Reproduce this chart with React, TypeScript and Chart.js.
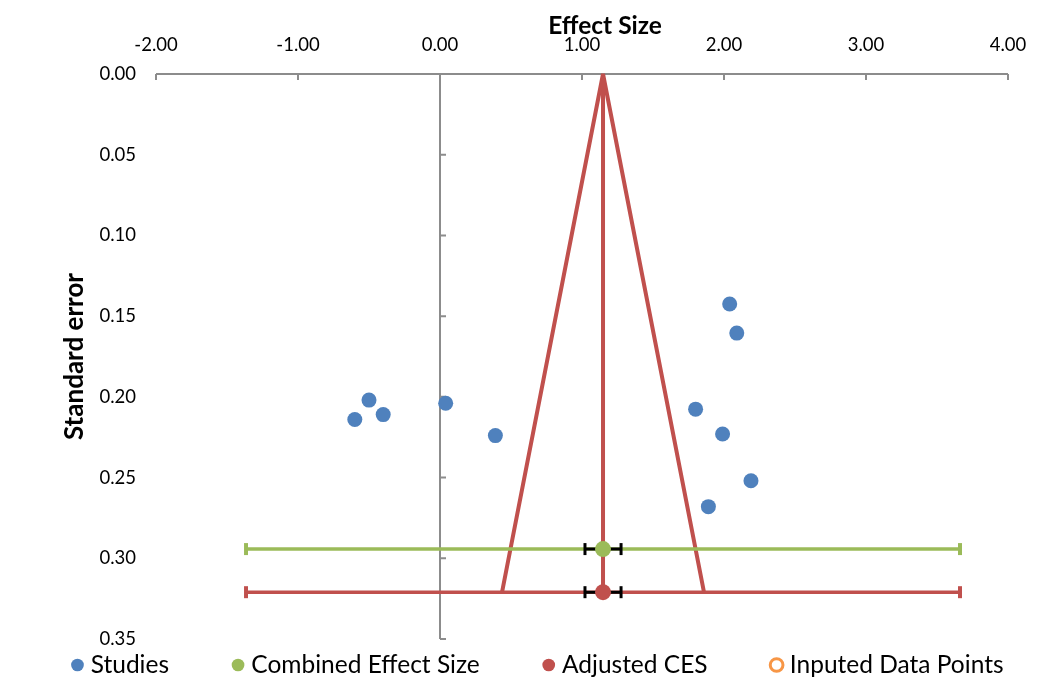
import React, { useEffect, useRef } from 'react';
import { Chart, registerables } from 'chart.js';

Chart.register(...registerables);

// ---- data ----
const studiesEffect = [-0.5, -0.6, -0.4, 0.04, 0.39, 2.04, 2.09, 1.8, 1.99, 2.19, 1.89];
const studiesSE = [0.202, 0.214, 0.211, 0.204, 0.224, 0.1425, 0.1605, 0.2076, 0.223, 0.252, 0.268];
const combinedEffect = [1.148];
const combinedSE = [0.2943];
const combinedCI = [1.021, 1.275];
const combinedPI = [-1.366, 3.662];
const adjustedEffect = [1.148];
const adjustedSE = [0.321];
const adjustedCI = [1.021, 1.275];
const adjustedPI = [-1.366, 3.662];
const funnelEffect = [0.437, 1.148, 1.859];
const funnelSE = [0.321, 0, 0.321];
const inputedEffect: number[] = [];
const inputedSE: number[] = [];
const xTicks = [-2, -1, 0, 1, 2, 3, 4];
const yTicks = [0, 0.05, 0.1, 0.15, 0.2, 0.25, 0.3, 0.35];
const seriesNames = ['Studies', 'Combined Effect Size', 'Adjusted CES', 'Inputed Data Points'];
const xTitle = 'Effect Size';
const yTitle = 'Standard error';

const BLUE = '#4F81BD';
const GREEN = '#9BBB59';
const RED = '#C0504D';
const ORANGE = '#F79646';
const GRAY = '#8C8C8C';
const FONT = 'Lato';
const TICK_SIZE = 18.5;
const LEGEND_SIZE = 24.5;
const X_TITLE_SIZE = 24.5;
const Y_TITLE_SIZE = 26;
const LEGEND_PAD = 68;
const SIDE_PAD = -80; // lets the one-row legend be wider than the canvas layout box

const pts = (xs: number[], ys: number[]) => xs.map((x, i) => ({ x, y: ys[i] }));

const axisPlugin = {
  id: 'excelAxes',
  beforeDatasetsDraw(chart: any) {
    const { ctx } = chart;
    const xs = chart.scales.x;
    const ys = chart.scales.y;
    const y0 = ys.getPixelForValue(yTicks[0]);
    const x0 = xs.getPixelForValue(0);
    ctx.save();
    ctx.strokeStyle = GRAY;
    ctx.lineWidth = 2;
    ctx.beginPath();
    ctx.moveTo(xs.getPixelForValue(xTicks[0]), y0);
    ctx.lineTo(xs.getPixelForValue(xTicks[xTicks.length - 1]), y0);
    xTicks.forEach((t) => {
      const px = xs.getPixelForValue(t);
      ctx.moveTo(px, y0);
      ctx.lineTo(px, y0 + 6);
    });
    ctx.moveTo(x0, y0);
    ctx.lineTo(x0, ys.getPixelForValue(yTicks[yTicks.length - 1]));
    yTicks.forEach((t) => {
      const py = ys.getPixelForValue(t);
      ctx.moveTo(x0, py);
      ctx.lineTo(x0 + 6, py);
    });
    ctx.stroke();
    ctx.restore();
  },
  afterDraw(chart: any) {
    const { ctx } = chart;
    ctx.save();
    ctx.fillStyle = '#000';
    ctx.font = `bold ${X_TITLE_SIZE}px ${FONT}`;
    ctx.textAlign = 'center';
    ctx.textBaseline = 'middle';
    ctx.fillText(xTitle, 605, 26);
    ctx.restore();
  },
};

const legendPlacer = {
  id: 'legendPlacer',
  afterLayout(chart: any) {
    const lg = chart.legend;
    if (!lg) return;
    const newTop = 665 - LEGEND_PAD - LEGEND_SIZE / 2;
    lg.top = newTop;
    lg.bottom = chart.height;
    lg.height = lg.bottom - lg.top;
    const dx = 540 - (lg.left + lg.right) / 2;
    lg.left += dx;
    lg.right += dx;
  },
};

export default function App() {
  const ref = useRef<HTMLCanvasElement | null>(null);
  useEffect(() => {
    if (!ref.current) return;
    const capLine = (color: string, xs: number[], y: number) => ({
      data: pts(xs, [y, y]),
      showLine: true,
      borderColor: color,
      backgroundColor: color,
      borderWidth: 3.5,
      pointStyle: 'line',
      pointRotation: 90,
      pointRadius: 6,
      pointBorderWidth: 4,
      pointBorderColor: color,
      pointHoverRadius: 6,
      clip: false,
    });
    const chart = new Chart(ref.current, {
      type: 'scatter',
      data: {
        datasets: [
          {
            label: seriesNames[0],
            data: pts(studiesEffect, studiesSE),
            backgroundColor: BLUE,
            borderColor: BLUE,
            pointRadius: 7.5,
            borderWidth: 0,
          },
          {
            label: seriesNames[1],
            data: pts(combinedEffect, combinedSE),
            backgroundColor: GREEN,
            borderColor: GREEN,
            pointRadius: 8,
            borderWidth: 0,
          },
          {
            label: seriesNames[2],
            data: pts(adjustedEffect, adjustedSE),
            backgroundColor: RED,
            borderColor: RED,
            pointRadius: 8,
            borderWidth: 0,
          },
          {
            label: seriesNames[3],
            data: pts(inputedEffect, inputedSE),
            backgroundColor: '#FFFFFF',
            borderColor: ORANGE,
            pointRadius: 7,
            borderWidth: 3,
          },
          { label: 'ci1', ...capLine('#000000', combinedCI, combinedSE[0]), borderWidth: 3, pointBorderWidth: 3 },
          { label: 'ci2', ...capLine('#000000', adjustedCI, adjustedSE[0]), borderWidth: 3, pointBorderWidth: 3 },
          { label: 'pi1', ...capLine(GREEN, combinedPI, combinedSE[0]) },
          { label: 'pi2', ...capLine(RED, adjustedPI, adjustedSE[0]) },
          {
            label: 'center',
            data: pts([adjustedEffect[0], adjustedEffect[0]], [0, adjustedSE[0]]),
            showLine: true,
            borderColor: RED,
            borderWidth: 4,
            pointRadius: 0,
            clip: false,
          },
          {
            label: 'funnel',
            data: pts(funnelEffect, funnelSE),
            showLine: true,
            borderColor: RED,
            borderWidth: 4,
            borderJoinStyle: 'bevel',
            pointRadius: 0,
            clip: false,
          },
        ],
      },
      options: {
        animation: false,
        responsive: false,
        layout: { padding: { left: SIDE_PAD, right: SIDE_PAD, top: 0, bottom: 0 } },
        plugins: {
          tooltip: { enabled: false },
          legend: {
            position: 'bottom',
            maxHeight: 58,
            labels: {
              filter: (item: any) => item.datasetIndex < 4,
              usePointStyle: true,
              pointStyle: 'circle',
              boxWidth: 2,
              boxHeight: 9,
              padding: LEGEND_PAD,
              color: '#000',
              font: { family: FONT, size: LEGEND_SIZE },
            },
          },
        },
        scales: {
          x: {
            type: 'linear',
            position: 'top',
            min: xTicks[0],
            max: xTicks[xTicks.length - 1],
            afterBuildTicks: (s: any) => {
              s.ticks = xTicks.map((v) => ({ value: v }));
            },
            afterFit: (s: any) => {
              s.height = 74;
            },
            grid: { display: false, drawTicks: false },
            border: { display: false },
            ticks: {
              padding: 18,
              color: '#000',
              font: { family: FONT, size: TICK_SIZE },
              maxRotation: 0,
              callback: (v: any) => Number(v).toFixed(2),
            },
          },
          y: {
            type: 'linear',
            position: 'left',
            reverse: true,
            min: yTicks[0],
            max: yTicks[yTicks.length - 1],
            afterBuildTicks: (s: any) => {
              s.ticks = yTicks.map((v) => ({ value: v }));
            },
            afterFit: (s: any) => {
              s.width = 156 - SIDE_PAD;
            },
            grid: { display: false, drawTicks: false },
            border: { display: false },
            title: {
              display: true,
              text: yTitle,
              color: '#000',
              font: { family: FONT, size: Y_TITLE_SIZE, weight: 'bold' },
              padding: { top: 59 - SIDE_PAD, bottom: 0 },
            },
            ticks: {
              padding: 20,
              color: '#000',
              font: { family: FONT, size: TICK_SIZE },
              callback: (v: any) => Number(v).toFixed(2),
            },
          },
          yR: {
            type: 'linear',
            position: 'right',
            display: true,
            afterFit: (s: any) => {
              s.width = 41 - SIDE_PAD;
            },
            grid: { display: false, drawTicks: false },
            border: { display: false },
            ticks: { display: false },
          },
        },
      } as any,
      plugins: [axisPlugin, legendPlacer],
    });
    return () => chart.destroy();
  }, []);
  return (
    <div style={{ position: 'absolute', left: 0, top: 0, width: 1049, height: 697, background: '#fff' }}>
      <canvas ref={ref} width={1049} height={697} style={{ display: 'block' }} />
    </div>
  );
}
